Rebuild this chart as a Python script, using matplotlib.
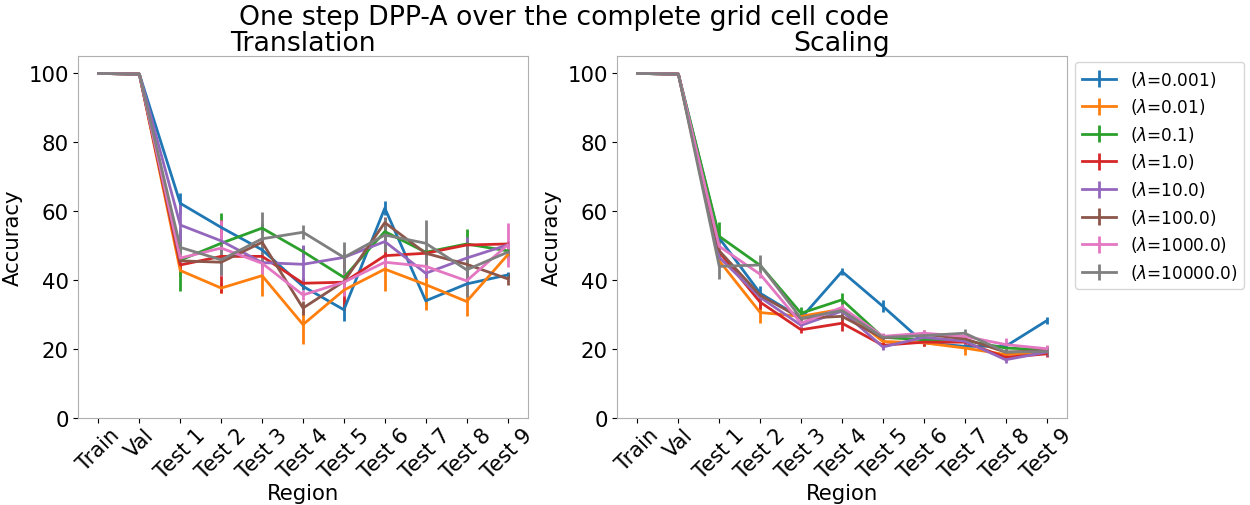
import matplotlib
matplotlib.use('Agg')
import matplotlib.pyplot as plt

regions = ['Train', 'Val', 'Test 1', 'Test 2', 'Test 3', 'Test 4', 'Test 5',
           'Test 6', 'Test 7', 'Test 8', 'Test 9']
lambdas = ['0.001', '0.01', '0.1', '1.0', '10.0', '100.0', '1000.0', '10000.0']

# Translation: mean accuracy per lambda
trans_mean = [
    [100, 99.8, 62.3, 55.3, 48.8, 38.2, 31.4, 60.9, 34.0, 38.9, 41.5],
    [100, 99.8, 42.8, 37.7, 41.3, 27.1, 37.1, 43.2, 38.7, 33.8, 47.3],
    [100, 99.8, 45.8, 50.7, 55.1, 48.3, 40.8, 54.1, 48.1, 50.5, 48.5],
    [100, 99.8, 44.4, 46.9, 46.9, 39.1, 39.4, 47.1, 47.8, 50.2, 50.5],
    [100, 99.8, 56.0, 51.4, 45.1, 44.6, 46.6, 51.2, 42.0, 46.4, 50.2],
    [100, 99.8, 45.6, 45.2, 51.0, 31.9, 39.6, 56.7, 47.8, 44.6, 40.4],
    [100, 99.8, 46.4, 49.3, 44.9, 35.7, 39.4, 45.2, 44.0, 39.8, 50.2],
    [100, 99.8, 49.5, 45.9, 52.0, 53.9, 46.6, 53.1, 50.7, 43.0, 48.1],
]
trans_std = [
    [0, 0, 3.0, 1.5, 1.0, 1.0, 3.4, 2.0, 1.0, 1.0, 1.0],
    [0, 0, 1.5, 1.5, 6.0, 5.7, 1.5, 6.3, 7.3, 4.3, 1.5],
    [0, 0, 9.0, 8.7, 1.5, 1.5, 1.0, 2.0, 1.0, 4.4, 1.0],
    [0, 0, 1.5, 10.5, 1.5, 1.5, 8.0, 1.5, 1.0, 1.0, 1.0],
    [0, 0, 6.0, 2.0, 1.5, 5.6, 1.5, 1.5, 1.5, 6.0, 1.0],
    [0, 0, 1.0, 1.0, 1.5, 2.0, 1.0, 1.5, 1.0, 1.0, 1.8],
    [0, 0, 1.5, 8.2, 4.0, 1.5, 4.0, 1.5, 1.5, 1.5, 6.3],
    [0, 0, 2.0, 4.5, 7.7, 2.0, 4.6, 5.0, 6.8, 8.0, 1.0],
]

# Scaling: mean accuracy per lambda
scale_mean = [
    [100, 99.8, 52.2, 36.2, 29.0, 42.5, 32.4, 21.8, 20.8, 20.8, 28.2],
    [100, 99.8, 45.6, 30.6, 29.5, 31.6, 22.2, 21.8, 20.3, 18.4, 19.1],
    [100, 99.8, 52.7, 44.3, 30.4, 34.3, 23.4, 22.7, 22.5, 20.3, 19.8],
    [100, 99.8, 48.1, 33.6, 25.6, 27.5, 21.1, 22.0, 22.0, 17.6, 18.6],
    [100, 99.8, 46.6, 35.0, 26.9, 31.0, 20.6, 23.4, 22.3, 16.9, 19.1],
    [100, 99.8, 48.5, 35.6, 28.9, 29.5, 23.2, 24.3, 23.0, 19.1, 19.6],
    [100, 99.8, 49.8, 41.7, 27.5, 32.1, 23.7, 24.6, 23.7, 21.3, 20.1],
    [100, 99.8, 44.0, 44.4, 28.9, 31.2, 23.4, 23.9, 24.6, 19.1, 19.3],
]
scale_std = [
    [0, 0, 1.0, 2.0, 1.0, 1.0, 1.7, 1.0, 1.0, 1.0, 1.0],
    [0, 0, 1.0, 3.0, 1.0, 1.0, 1.0, 1.0, 2.0, 1.0, 1.0],
    [0, 0, 4.3, 1.0, 1.7, 2.0, 1.0, 1.0, 1.0, 1.0, 1.0],
    [0, 0, 1.0, 2.0, 1.0, 2.4, 1.0, 1.0, 1.0, 1.0, 1.0],
    [0, 0, 1.0, 1.0, 1.0, 1.0, 1.0, 1.0, 1.0, 1.0, 1.0],
    [0, 0, 1.0, 1.0, 1.0, 1.0, 1.0, 1.2, 1.0, 1.0, 1.0],
    [0, 0, 1.0, 1.0, 1.0, 1.0, 1.0, 1.0, 1.0, 2.0, 1.0],
    [0, 0, 3.6, 3.0, 1.0, 1.0, 1.0, 1.0, 1.2, 1.0, 1.0],
]

fig = plt.figure(figsize=(12.5, 5.06), dpi=100)
ax1 = fig.add_axes([0.0624, 0.172, 0.360, 0.715])
ax2 = fig.add_axes([0.4936, 0.172, 0.360, 0.715])
fig.suptitle('One step DPP-A over the complete grid cell code', fontsize=19.3,
             x=0.451, y=0.99)

x = list(range(len(regions)))
for ax, means, stds, title in [(ax1, trans_mean, trans_std, 'Translation'),
                               (ax2, scale_mean, scale_std, 'Scaling')]:
    for lam, m, s in zip(lambdas, means, stds):
        ax.errorbar(x, m, yerr=s, label=r'($\lambda$=' + lam + ')', linewidth=2)
    ax.set_title(title, fontsize=19.3, pad=1)
    ax.set_xticks(x)
    ax.set_xticklabels(regions, rotation=45)
    ax.set_ylim(0, 105)
    ax.set_yticks([0, 20, 40, 60, 80, 100])
    ax.tick_params(axis='y', labelsize=15.3, pad=3)
    ax.tick_params(axis='x', labelsize=15, pad=1)
    ax.set_xlabel('Region', fontsize=15.3, labelpad=1)
    ax.set_ylabel('Accuracy', fontsize=15.3)
    for sp in ax.spines.values():
        sp.set_color('#b0b0b0')

ax2.legend(loc='upper left', bbox_to_anchor=(1.0, 1.008), fontsize=12.2,
           labelspacing=0.45)

plt.savefig('out.png', dpi=100)
